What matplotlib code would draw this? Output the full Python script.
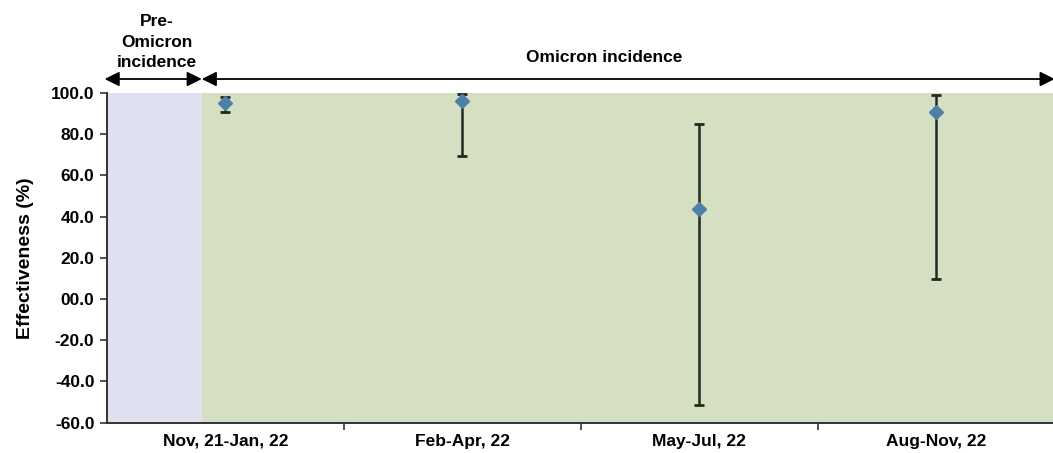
import matplotlib.pyplot as plt
import matplotlib.transforms as mtransforms
import numpy as np

plt.rcParams['font.family'] = ['Liberation Sans', 'DejaVu Sans']
plt.rcParams['font.weight'] = 'bold'

periods = ['Nov, 21-Jan, 22', 'Feb-Apr, 22', 'May-Jul, 22', 'Aug-Nov, 22']
effectiveness = [94.9, 96.1, 43.6, 90.5]
ci_low = [90.5, 69.5, -51.5, 9.5]
ci_high = [97.8, 99.6, 84.7, 99.0]
yticks = [100, 80, 60, 40, 20, 0, -20, -40, -60]
ytick_labels = ['100.0', '80.0', '60.0', '40.0', '20.0', '00.0', '-20.0', '-40.0', '-60.0']

x = np.arange(len(periods))
eff = np.array(effectiveness)
yerr = [eff - np.array(ci_low), np.array(ci_high) - eff]

fig = plt.figure(figsize=(10.53, 4.53), dpi=100)
ax = fig.add_axes([0.1016, 0.067, 0.9, 0.728])

split = -0.1
ax.axvspan(-0.5, split, color='#dfe1f0', zorder=0, lw=0)
ax.axvspan(split, 3.5, color='#d4e0c1', zorder=0, lw=0)

ax.errorbar(x, eff, yerr=yerr, fmt='none', ecolor='#1f2b1f', elinewidth=1.8,
            capsize=3.5, capthick=2, zorder=2)
ax.plot(x, eff, linestyle='none', marker='D', markersize=7.5, color='#4d80a6', zorder=3)

ax.set_xlim(-0.5, 3.5)
ax.set_ylim(-60, 100)
ax.set_yticks(yticks)
ax.set_yticklabels(ytick_labels, fontsize=12.5)
ax.set_xticks(x)
ax.set_xticklabels(periods, fontsize=12.5)
ax.tick_params(axis='x', which='major', length=0, pad=8)
ax.set_xticks(np.arange(0.5, 3.5, 1), minor=True)
ax.tick_params(axis='x', which='minor', length=5, width=1.2, color='#333333')
ax.tick_params(axis='y', length=5, width=1.2, color='#333333', pad=4)
ax.set_ylabel('Effectiveness (%)', fontsize=14, fontweight='bold', labelpad=12)

for s in ['top', 'right']:
    ax.spines[s].set_visible(False)
for s in ['left', 'bottom']:
    ax.spines[s].set_color('#333333')
    ax.spines[s].set_linewidth(1.4)

trans = mtransforms.blended_transform_factory(ax.transData, ax.transAxes)
ya = 1.042
arrow = dict(arrowstyle='<|-|>', color='black', lw=1.3, mutation_scale=22, shrinkA=0, shrinkB=0)
ax.annotate('', xy=(-0.51, ya), xytext=(split, ya), xycoords=trans, textcoords=trans,
            arrowprops=arrow, annotation_clip=False)
ax.annotate('', xy=(split, ya), xytext=(3.5, ya), xycoords=trans, textcoords=trans,
            arrowprops=arrow, annotation_clip=False)
ax.text(-0.29, 1.078, 'Pre-\nOmicron\nincidence', transform=trans,
        ha='center', va='baseline', fontsize=12.5, fontweight='bold', linespacing=1.45)
ax.text(1.6, 1.093, 'Omicron incidence', transform=trans,
        ha='center', va='baseline', fontsize=12.5, fontweight='bold')

fig.savefig('out.png', dpi=100)
